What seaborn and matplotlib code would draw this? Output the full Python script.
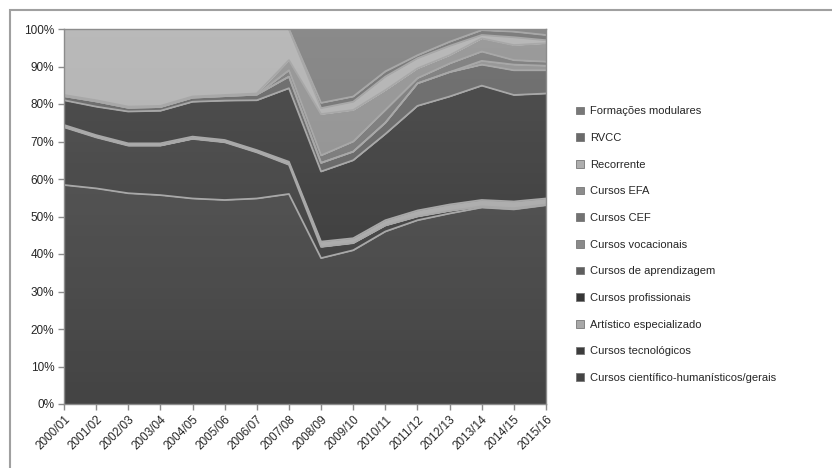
import numpy as np
import matplotlib
matplotlib.use("Agg")
import matplotlib.pyplot as plt
import seaborn as sns
import pandas as pd
from matplotlib.patches import Rectangle, Patch

years = ["2000/01", "2001/02", "2002/03", "2003/04", "2004/05", "2005/06",
         "2006/07", "2007/08", "2008/09", "2009/10", "2010/11", "2011/12",
         "2012/13", "2013/14", "2014/15", "2015/16"]

series_names = ["Cursos científico-humanísticos/gerais", "Cursos tecnológicos",
                "Artístico especializado", "Cursos profissionais",
                "Cursos de aprendizagem", "Cursos vocacionais", "Cursos CEF",
                "Cursos EFA", "Recorrente", "RVCC", "Formações modulares"]

cientifico = [58.4, 57.5, 56.2, 55.7, 54.8, 54.4, 54.8, 56.0, 38.9, 41.0, 46.0, 49.0, 50.8, 52.4, 51.9, 53.0]
tecnologicos = [15.4, 13.6, 12.7, 13.2, 15.9, 15.4, 12.3, 7.8, 3.0, 1.9, 1.6, 1.0, 0.7, 0.3, 0.3, 0.2]
artistico = [0.6, 0.6, 0.6, 0.6, 0.6, 0.6, 0.6, 0.8, 1.4, 1.3, 1.4, 1.6, 1.7, 1.7, 1.8, 1.6]
profissionais = [6.6, 7.6, 8.5, 8.7, 9.3, 10.5, 13.3, 19.6, 18.7, 20.8, 23.0, 27.9, 28.8, 30.5, 28.4, 28.0]
aprendizagem = [1.1, 1.4, 1.0, 1.0, 1.1, 1.2, 1.5, 3.1, 2.3, 2.3, 3.0, 6.0, 6.5, 5.6, 6.6, 6.2]
vocacionais = [0, 0, 0, 0, 0, 0, 0, 0, 0, 0, 0, 0, 0, 1.0, 1.5, 1.2]
cef = [0, 0, 0, 0, 0, 0, 0, 1.7, 2.0, 2.7, 3.4, 1.4, 2.3, 2.5, 1.2, 1.1]
efa = [0.3, 0.3, 0.3, 0.3, 0.3, 0.3, 0.3, 2.7, 11.0, 8.4, 5.3, 2.6, 2.2, 3.5, 4.0, 4.9]
recorrente = [17.6, 19.0, 20.7, 20.5, 18.0, 17.6, 17.2, 8.3, 1.6, 2.2, 3.6, 2.7, 2.5, 0.9, 2.1, 0.8]
rvcc = [0, 0, 0, 0, 0, 0, 0, 0, 1.4, 1.4, 1.4, 0.8, 1.1, 1.3, 1.5, 1.4]
modulares = [0, 0, 0, 0, 0, 0, 0, 0, 19.7, 18.0, 11.3, 7.0, 3.4, 0.3, 0.7, 1.6]

ytick_vals = [0, 10, 20, 30, 40, 50, 60, 70, 80, 90, 100]

sns.set_style("white")
plt.rcParams['font.family'] = ['Liberation Sans', 'DejaVu Sans']

colors = ['#444444', '#3c3c3c', '#a8a8a8', '#363636', '#5e5e5e', '#8a8a8a',
          '#727272', '#8c8c8c', '#aeaeae', '#6a6a6a', '#787878']

data = np.array([cientifico, tecnologicos, artistico, profissionais, aprendizagem,
                 vocacionais, cef, efa, recorrente, rvcc, modulares], dtype=float)
pct = data / data.sum(axis=0) * 100.0
cum = np.cumsum(pct, axis=0)

fig = plt.figure(figsize=(8.32, 4.68), dpi=100)
ax = fig.add_axes([64 / 832, 1 - 404 / 468, (546 - 64) / 832, (404 - 29) / 468])

x = np.arange(len(years))
ax.stackplot(x, pct, colors=colors, linewidth=0, zorder=1)

# subtle vertical light gradient over the areas (lighter toward the top)
grad = np.linspace(0, 1, 256).reshape(-1, 1)
rgba = np.zeros((256, 1, 4))
rgba[..., :3] = 1.0
rgba[..., 3] = 0.14 * grad
ax.imshow(rgba, extent=[0, len(years) - 1, 0, 100], origin='lower', aspect='auto',
          zorder=2, interpolation='bilinear')

# highlight edges along each boundary
for k in range(len(series_names) - 1):
    df = pd.DataFrame({"x": x, "y": cum[k]})
    sns.lineplot(data=df, x="x", y="y", ax=ax, color='#a8a8a8', linewidth=1.3,
                 legend=False, zorder=3)

ax.set_xlim(0, len(years) - 1)
ax.set_ylim(0, 100)
ax.set_xlabel("")
ax.set_ylabel("")
ax.set_yticks(ytick_vals)
ax.set_yticklabels([f"{v}%" for v in ytick_vals], fontsize=8.5)
ax.set_xticks(x)
ax.set_xticklabels(years, rotation=45, ha='right', rotation_mode='anchor', fontsize=8.5)
ax.tick_params(axis='both', which='both', direction='out', length=4, color='#8c8c8c',
               width=1, pad=3, bottom=True, left=True)
for s in ax.spines.values():
    s.set_color('#8c8c8c')
    s.set_linewidth(1)
    s.set_zorder(4)

handles = [Patch(facecolor=c, edgecolor='#777777', linewidth=0.6) for c in colors]
leg = fig.legend(handles[::-1], series_names[::-1], loc='upper left',
                 bbox_to_anchor=(572 / 832, 1 - 102 / 468), frameon=False,
                 fontsize=8, handlelength=0.7, handleheight=0.7, handletextpad=0.5,
                 labelspacing=1.5, borderaxespad=0)

fig.patches.append(Rectangle((10 / 832, -0.2), 1.2, 1.2 - 10 / 468, transform=fig.transFigure,
                             fill=False, edgecolor='#a0a0a0', linewidth=1.5))

fig.savefig("out.png", dpi=100)
